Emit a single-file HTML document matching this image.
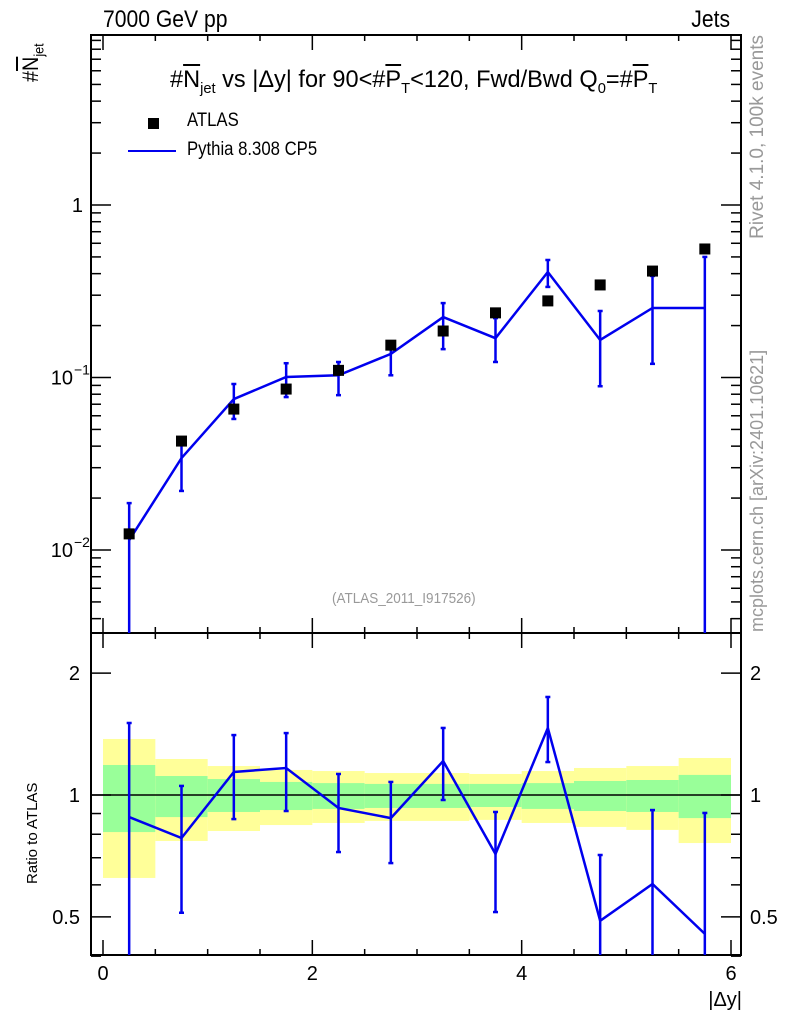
<!DOCTYPE html>
<html><head><meta charset="utf-8"><style>
html,body{margin:0;background:#fff;overflow:hidden;width:786px;height:1024px;}
svg{display:block;font-family:"Liberation Sans",sans-serif;}
</style></head><body>
<svg id="c" width="786" height="1024" viewBox="0 0 786 1024"></svg>
<script>
const binEdges=[0,0.5,1,1.5,2,2.5,3,3.5,4,4.5,5,5.5,6];
const dataVals=[0.0124,0.0428,0.0656,0.0857,0.110,0.154,0.186,0.237,0.278,0.344,0.414,0.556];
const mcVals=[0.0114,0.0341,0.075,0.1007,0.103,0.137,0.224,0.169,0.409,0.165,0.253,0.253];
const mcHi=[0.0187,0.0434,0.0917,0.121,0.123,0.161,0.270,0.221,0.480,0.243,0.388,0.50];
const mcLo=[0.001,0.022,0.0575,0.077,0.079,0.103,0.146,0.123,0.335,0.089,0.120,0.001];
const ratioVals=[0.882,0.783,1.140,1.166,0.929,0.877,1.213,0.715,1.464,0.489,0.603,0.454];
const ratioHi=[1.506,1.053,1.406,1.422,1.127,1.077,1.464,0.908,1.746,0.711,0.918,0.903];
const ratioLo=[0.1,0.512,0.872,0.913,0.723,0.679,0.972,0.514,1.206,0.1,0.1,0.1];
const yelHi=[1.375,1.227,1.179,1.153,1.146,1.133,1.133,1.127,1.146,1.166,1.179,1.234];
const yelLo=[0.624,0.770,0.815,0.843,0.853,0.863,0.863,0.868,0.853,0.834,0.820,0.761];
const grnHi=[1.186,1.114,1.095,1.077,1.070,1.065,1.065,1.065,1.070,1.083,1.089,1.121];
const grnLo=[0.810,0.882,0.908,0.918,0.924,0.929,0.929,0.934,0.924,0.913,0.908,0.877];
const xTicks=[0,2,4,6];
const ratioTicks=[[2,"2"],[1,"1"],[0.5,"0.5"]];

const NS="http://www.w3.org/2000/svg";
const svg=document.getElementById('c');
const L=91,R=741,T=35,MB=633,B=955;
const X=v=>103+(v)*(731-103)/6;
const Y=v=>205-Math.log10(v)*172.5;
const YR=v=>795-Math.log10(v)*405;
function el(tag,attrs,parent){const e=document.createElementNS(NS,tag);for(const k in attrs)e.setAttribute(k,attrs[k]);(parent||svg).appendChild(e);return e;}
function txt(s,x,y,attrs,parent){const e=el('text',Object.assign({x:x,y:y},attrs),parent);e.textContent=s;return e;}

const defs=el('defs',{});
const cp1=el('clipPath',{id:'cm'},defs);el('rect',{x:L,y:T,width:R-L,height:MB-T},cp1);
const cp2=el('clipPath',{id:'cr'},defs);el('rect',{x:L,y:MB,width:R-L,height:B-MB},cp2);

const gb=el('g',{'clip-path':'url(#cr)'});


for(let i=0;i<12;i++){
  const y=el('rect',{x:X(binEdges[i]),y:YR(yelHi[i]),width:X(binEdges[i+1])-X(binEdges[i]),height:YR(yelLo[i])-YR(yelHi[i]),fill:'#ffff99'},gb);
  
  
  const g=el('rect',{x:X(binEdges[i]),y:YR(grnHi[i]),width:X(binEdges[i+1])-X(binEdges[i]),height:YR(grnLo[i])-YR(grnHi[i]),fill:'#99ff99'},gb);
  
  
}
const one=el('line',{x1:L,x2:R,y1:YR(1),y2:YR(1),stroke:'#000','stroke-width':1.5});



for(const [t,b,n] of [[T,MB,'main-frame'],[MB,B,'ratio-frame']]){
  const f=el('rect',{x:L,y:t,width:R-L,height:b-t,fill:'none',stroke:'#000','stroke-width':2});
  
  
}
const tk=el('g',{stroke:'#000','stroke-width':1.5});


for(let v=0;v<=6.001;v+=0.5){
  const major=Math.abs(v-Math.round(v/2)*2)<1e-6;
  const len=major?15:6;
  for(const [yy,d] of [[T,1],[MB,-1],[MB,1],[B,-1]]){
    el('line',{x1:X(v),x2:X(v),y1:yy,y2:yy+d*len},tk);
  }
}
const yt=el('g',{stroke:'#000','stroke-width':1.5});


for(let d=-3;d<=1;d++){for(let m=1;m<10;m++){
  const v=m*Math.pow(10,d);const y=Y(v);if(y<T||y>MB)continue;
  const len=m==1?20:10;
  el('line',{x1:L,x2:L+len,y1:y,y2:y},yt);el('line',{x1:R,x2:R-len,y1:y,y2:y},yt);
}}
const rt=el('g',{stroke:'#000','stroke-width':1.5});


for(const v of [0.4,0.5,0.6,0.7,0.8,0.9,1,2]){
  const y=YR(v);const len=(v==1||v==2||v==0.5)?20:10;
  el('line',{x1:L,x2:L+len,y1:y,y2:y},rt);el('line',{x1:R,x2:R-len,y1:y,y2:y},rt);
}
const ylab=[[1,"1",""],[0.1,"10","−1"],[0.01,"10","−2"]];
for(const [v,b,e] of ylab){
  const t=txt(b,e?73:83,Y(v)+7,{'font-size':20,'text-anchor':'end'});
  
  
  if(e){const s=txt(e,74,Y(v)-3,{'font-size':14});
  
  }
}
for(const [v,s] of ratioTicks){
  const a=txt(s,80,YR(v)+7,{'font-size':20,'text-anchor':'end'});
  
  
  const b=txt(s,750,YR(v)+7,{'font-size':20});
  
  
}
for(const v of xTicks){
  const t=txt(String(v),X(v),980,{'font-size':20,'text-anchor':'middle'});
  
  
}
const xt=txt('|Δy|',742,1006,{'font-size':20,'text-anchor':'end'});


const rvt=txt('Rivet 4.1.0,  100k events',0,0,{'font-size':19,fill:'#999','text-anchor':'end','xml:space':'preserve',transform:'translate(763,35) rotate(-90)'});


const mct=txt('mcplots.cern.ch [arXiv:2401.10621]',0,0,{'font-size':18,fill:'#999',transform:'translate(763,632) rotate(-90)'});


const rat=txt('Ratio to ATLAS',0,0,{'font-size':15,transform:'translate(37,884) rotate(-90)'});



const gm=el('g',{'clip-path':'url(#cm)'});


let pts=mcVals.map((v,i)=>X((binEdges[i]+binEdges[i+1])/2)+','+Y(v));
const pl=el('polyline',{points:pts.join(' '),fill:'none',stroke:'#0000ee','stroke-width':2.5},gm);


mcVals.forEach((v,i)=>{
  const x=X((binEdges[i]+binEdges[i+1])/2);
  const e=el('line',{x1:x,x2:x,y1:Y(mcHi[i]),y2:Y(mcLo[i]),stroke:'#0000ee','stroke-width':2.5},gm);
  
  
  for(const w of [mcHi[i],mcLo[i]]){const c=el('line',{x1:x-2.5,x2:x+2.5,y1:Y(w),y2:Y(w),stroke:'#0000ee','stroke-width':2.5},gm);
  
  }
});
dataVals.forEach((v,i)=>{
  const x=X((binEdges[i]+binEdges[i+1])/2);
  const r=el('rect',{x:x-5.5,y:Y(v)-5.5,width:11,height:11,fill:'#000'},gm);
  
  
});
const gr=el('g',{'clip-path':'url(#cr)'});


pts=ratioVals.map((v,i)=>X((binEdges[i]+binEdges[i+1])/2)+','+YR(v));
const rl=el('polyline',{points:pts.join(' '),fill:'none',stroke:'#0000ee','stroke-width':2.5},gr);


ratioVals.forEach((v,i)=>{
  const x=X((binEdges[i]+binEdges[i+1])/2);
  const e=el('line',{x1:x,x2:x,y1:YR(ratioHi[i]),y2:YR(ratioLo[i]),stroke:'#0000ee','stroke-width':2.5},gr);
  
  
  for(const w of [ratioHi[i],ratioLo[i]]){const c=el('line',{x1:x-2.5,x2:x+2.5,y1:YR(w),y2:YR(w),stroke:'#0000ee','stroke-width':2.5},gr);
  
  }
});
</script>
<div style="position:absolute;left:0;top:0;width:786px;height:1024px;overflow:hidden;pointer-events:none;font-family:'Liberation Sans',sans-serif;color:#000;">
  <div style="position:absolute;left:103px;top:6px;font-size:24px;transform:scaleX(0.88);transform-origin:0 0;white-space:nowrap;">7000 GeV pp</div>
  <div style="position:absolute;right:56px;top:6px;font-size:24px;transform:scaleX(0.88);transform-origin:100% 0;">Jets</div>
  <div style="position:absolute;left:170px;top:66px;font-size:24px;white-space:nowrap;transform:scaleX(0.98);transform-origin:0 0;">#<span style="text-decoration:overline">N</span><sub style="font-size:15px">jet</sub> vs |Δy| for 90&lt;#<span style="text-decoration:overline">P</span><sub style="font-size:15px">T</sub>&lt;120, Fwd/Bwd Q<sub style="font-size:15px">0</sub>=#<span style="text-decoration:overline">P</span><sub style="font-size:15px">T</sub></div>
  <div style="position:absolute;left:148px;top:118px;width:11px;height:11px;background:#000;"></div>
  <div style="position:absolute;left:187px;top:110px;font-size:19px;transform:scaleX(0.88);transform-origin:0 0;">ATLAS</div>
  <div style="position:absolute;left:128px;top:150px;width:48px;height:2px;background:#0000ee;"></div>
  <div style="position:absolute;left:187px;top:139px;font-size:19px;transform:scaleX(0.88);transform-origin:0 0;white-space:nowrap;">Pythia 8.308 CP5</div>
  <div style="position:absolute;left:332px;top:590px;font-size:15px;color:#999;transform:scaleX(0.9);transform-origin:0 0;white-space:nowrap;">(ATLAS_2011_I917526)</div>
  <div style="position:absolute;left:18px;top:82px;transform:rotate(-90deg) scaleX(0.9);transform-origin:0 0;font-size:22px;white-space:nowrap;">#<span style="text-decoration:overline">N</span><sub style="font-size:14px">jet</sub></div>
</div>
</body></html>
